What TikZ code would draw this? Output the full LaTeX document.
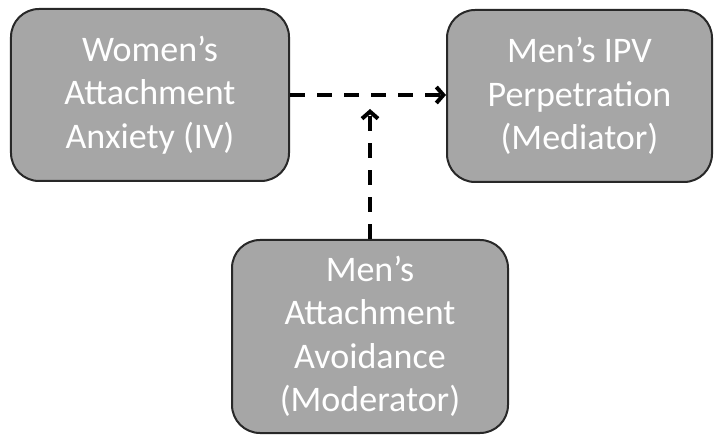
\documentclass[tikz,border=0pt]{standalone}
\usepackage{fontspec}
\setmainfont{Carlito}
\usetikzlibrary{arrows.meta}
\definecolor{boxgray}{RGB}{166,166,166}
\definecolor{boxedge}{RGB}{40,40,40}
\begin{document}
\begin{tikzpicture}[x=1bp,y=-1bp,
  varbox/.style={draw=boxedge, line width=2bp, fill=boxgray, rounded corners=28bp,
    inner sep=0pt, align=center, text=white,
    font=\fontsize{36bp}{43.5bp}\selectfont},
  dasharrow/.style={line width=4bp, dash pattern=on 15bp off 12bp,
    -{Straight Barb[length=7bp,width=16bp,line width=4bp]}}]
  \useasboundingbox (0,0) rectangle (714,436);
  % the three variables
  \node[varbox, minimum width=278bp, minimum height=172bp] (iv) at (150,95)
    {Women’s\\Attachment\\Anxiety (IV)};
  \node[varbox, minimum width=265bp, minimum height=172bp] (med) at (579.5,96)
    {Men’s IPV\\Perpetration\\(Mediator)};
  \node[varbox, minimum width=276bp, minimum height=193bp] (mod) at (370,336.5)
    {Men’s\\Attachment\\Avoidance\\(Moderator)};
  % moderated path
  \coordinate (hit) at (370,109);
  \draw[dasharrow] (iv.east) -- (iv.east -| med.west);
  \draw[dasharrow] (mod.north) -- (hit);
\end{tikzpicture}
\end{document}
